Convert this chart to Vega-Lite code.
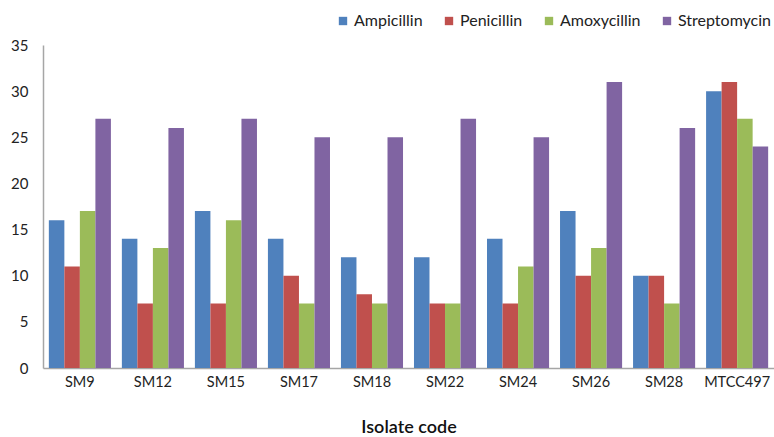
{
  "$schema": "https://vega.github.io/schema/vega-lite/v6.json",
  "autosize": {"type": "none"},
  "width": 731,
  "height": 323,
  "padding": {"left": 43, "top": 45, "right": 0, "bottom": 69},
  "config": {
    "view": {"stroke": null},
    "font": "Lato",
    "axis": {"labelFont": "Lato", "titleFont": "Lato", "labelColor": "#222", "titleColor": "#111", "domainColor": "#a6a6a6", "ticks": false, "grid": false},
    "legend": {"labelFont": "Lato", "labelColor": "#222"}
  },
  "data": {
    "values": [
      {"isolate": "SM9", "antibiotic": "Ampicillin", "value": 16},
      {"isolate": "SM9", "antibiotic": "Penicillin", "value": 11},
      {"isolate": "SM9", "antibiotic": "Amoxycillin", "value": 17},
      {"isolate": "SM9", "antibiotic": "Streptomycin", "value": 27},
      {"isolate": "SM12", "antibiotic": "Ampicillin", "value": 14},
      {"isolate": "SM12", "antibiotic": "Penicillin", "value": 7},
      {"isolate": "SM12", "antibiotic": "Amoxycillin", "value": 13},
      {"isolate": "SM12", "antibiotic": "Streptomycin", "value": 26},
      {"isolate": "SM15", "antibiotic": "Ampicillin", "value": 17},
      {"isolate": "SM15", "antibiotic": "Penicillin", "value": 7},
      {"isolate": "SM15", "antibiotic": "Amoxycillin", "value": 16},
      {"isolate": "SM15", "antibiotic": "Streptomycin", "value": 27},
      {"isolate": "SM17", "antibiotic": "Ampicillin", "value": 14},
      {"isolate": "SM17", "antibiotic": "Penicillin", "value": 10},
      {"isolate": "SM17", "antibiotic": "Amoxycillin", "value": 7},
      {"isolate": "SM17", "antibiotic": "Streptomycin", "value": 25},
      {"isolate": "SM18", "antibiotic": "Ampicillin", "value": 12},
      {"isolate": "SM18", "antibiotic": "Penicillin", "value": 8},
      {"isolate": "SM18", "antibiotic": "Amoxycillin", "value": 7},
      {"isolate": "SM18", "antibiotic": "Streptomycin", "value": 25},
      {"isolate": "SM22", "antibiotic": "Ampicillin", "value": 12},
      {"isolate": "SM22", "antibiotic": "Penicillin", "value": 7},
      {"isolate": "SM22", "antibiotic": "Amoxycillin", "value": 7},
      {"isolate": "SM22", "antibiotic": "Streptomycin", "value": 27},
      {"isolate": "SM24", "antibiotic": "Ampicillin", "value": 14},
      {"isolate": "SM24", "antibiotic": "Penicillin", "value": 7},
      {"isolate": "SM24", "antibiotic": "Amoxycillin", "value": 11},
      {"isolate": "SM24", "antibiotic": "Streptomycin", "value": 25},
      {"isolate": "SM26", "antibiotic": "Ampicillin", "value": 17},
      {"isolate": "SM26", "antibiotic": "Penicillin", "value": 10},
      {"isolate": "SM26", "antibiotic": "Amoxycillin", "value": 13},
      {"isolate": "SM26", "antibiotic": "Streptomycin", "value": 31},
      {"isolate": "SM28", "antibiotic": "Ampicillin", "value": 10},
      {"isolate": "SM28", "antibiotic": "Penicillin", "value": 10},
      {"isolate": "SM28", "antibiotic": "Amoxycillin", "value": 7},
      {"isolate": "SM28", "antibiotic": "Streptomycin", "value": 26},
      {"isolate": "MTCC497", "antibiotic": "Ampicillin", "value": 30},
      {"isolate": "MTCC497", "antibiotic": "Penicillin", "value": 31},
      {"isolate": "MTCC497", "antibiotic": "Amoxycillin", "value": 27},
      {"isolate": "MTCC497", "antibiotic": "Streptomycin", "value": 24}
    ]
  },
  "mark": {"type": "bar"},
  "encoding": {
    "x": {
      "field": "isolate",
      "type": "nominal",
      "sort": null,
      "title": "Isolate code",
      "scale": {"paddingInner": 0.15, "paddingOuter": 0.08},
      "axis": {"labelAngle": 0, "labelFontSize": 14.5, "labelPadding": 7, "titleFontSize": 18, "titleFontWeight": 600, "titlePadding": 30, "domainWidth": 1.5}
    },
    "xOffset": {
      "field": "antibiotic",
      "type": "nominal",
      "sort": ["Ampicillin", "Penicillin", "Amoxycillin", "Streptomycin"],
      "scale": {"paddingInner": 0, "paddingOuter": 0}
    },
    "y": {
      "field": "value",
      "type": "quantitative",
      "title": null,
      "scale": {"domain": [0, 35], "nice": false},
      "axis": {"values": [0, 5, 10, 15, 20, 25, 30, 35], "labelFontSize": 15, "labelPadding": 15, "domainWidth": 1.5}
    },
    "color": {
      "field": "antibiotic",
      "type": "nominal",
      "sort": ["Ampicillin", "Penicillin", "Amoxycillin", "Streptomycin"],
      "scale": {"domain": ["Ampicillin", "Penicillin", "Amoxycillin", "Streptomycin"], "range": ["#4F81BD", "#C0504D", "#9BBB59", "#8064A2"]},
      "legend": {
        "title": null,
        "orient": "none",
        "legendX": 292,
        "legendY": -32,
        "direction": "horizontal",
        "symbolType": "square",
        "symbolSize": 70,
        "symbolStrokeWidth": 0,
        "labelFontSize": 16,
        "labelOffset": 3,
        "columnPadding": 18
      }
    }
  }
}
